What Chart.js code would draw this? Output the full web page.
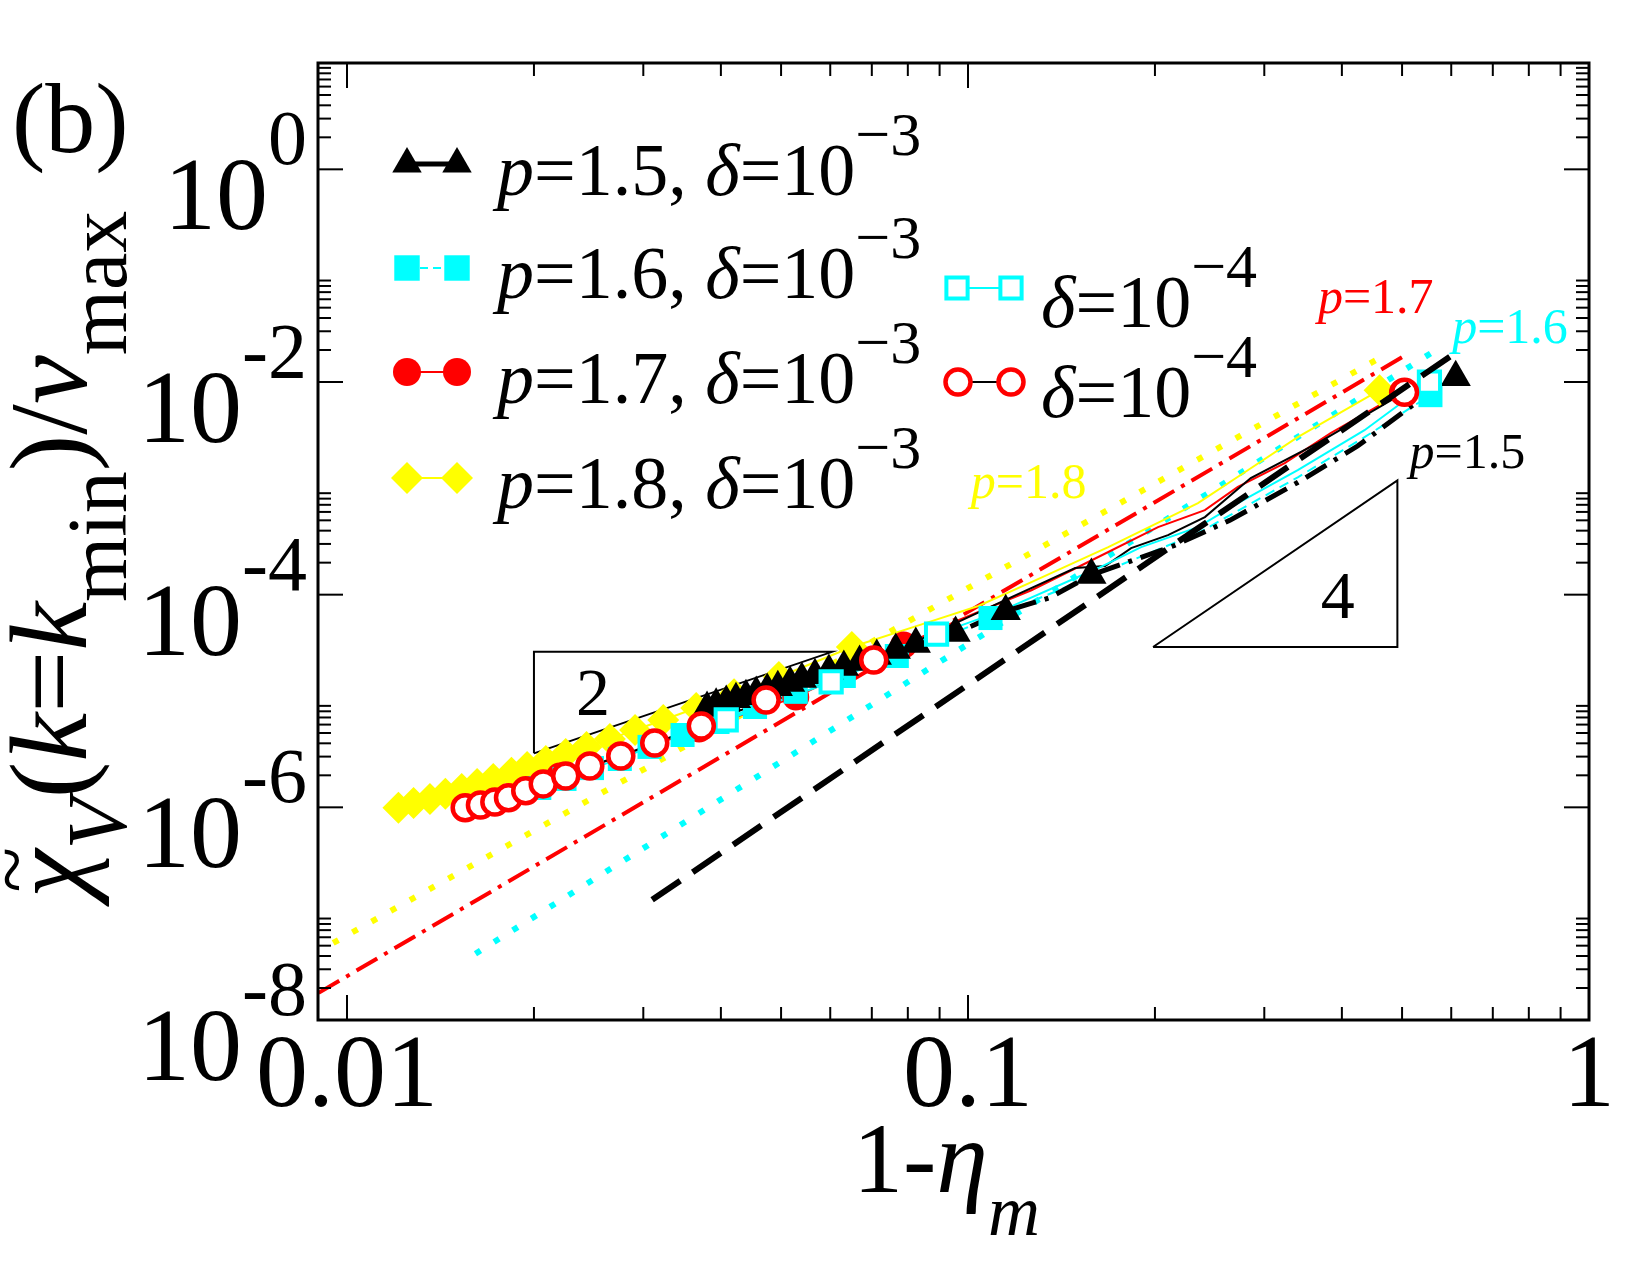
<!DOCTYPE html>
<html>
<head>
<meta charset="utf-8">
<script src="https://cdn.jsdelivr.net/npm/chart.js@4.4.1/dist/chart.umd.min.js"></script>
<style>
  html, body { margin: 0; padding: 0; background: #fff; }
  canvas { display: block; }
</style>
</head>
<body>
<canvas id="chart" width="1650" height="1275"></canvas>
<script>
// --- values (x = 1 - eta_m, y = chi_V / v_max) ---

// p=1.5, delta=1e-3 : filled black triangles (+ extra vertices of its line)
const p15X = [0.0380, 0.0393, 0.0408, 0.0423, 0.0439, 0.0456, 0.0475, 0.0494, 0.0517, 0.0540, 0.0567,
              0.0597, 0.0631, 0.0669, 0.0713, 0.0765, 0.0824, 0.0955, 0.115, 0.158, 0.61];
const p15Y = [8.6e-6, 9.2e-6, 9.8e-6, 1.04e-5, 1.11e-5, 1.19e-5, 1.27e-5, 1.35e-5, 1.48e-5, 1.61e-5, 1.75e-5,
              1.91e-5, 2.09e-5, 2.33e-5, 2.65e-5, 3.01e-5, 3.43e-5, 4.36e-5, 7.0e-5, 1.53e-4, 1.11e-2];
const p15TailX = [0.135, 0.215, 0.264, 0.340, 0.424, 0.520];
const p15TailY = [9.3e-5, 2.9e-4, 5.0e-4, 1.14e-3, 2.5e-3, 6.05e-3];

// p=1.6, delta=1e-3 : filled cyan squares
const p16X = [0.0204, 0.0224, 0.0248, 0.0275, 0.0307, 0.0347, 0.0395, 0.0454, 0.0528, 0.0631, 0.0768, 0.1087, 0.5555];
const p16Y = [1.52e-6, 1.85e-6, 2.34e-6, 2.85e-6, 3.70e-6, 4.79e-6, 6.35e-6, 8.79e-6, 1.22e-5, 1.72e-5, 2.65e-5, 6.03e-5, 7.52e-3];
const p16TailX = [0.1621, 0.2346, 0.3396, 0.4350];
const p16TailY = [1.56e-4, 3.79e-4, 1.27e-3, 3.03e-3];

// p=1.7, delta=1e-3 : filled red circles
const p17X = [0.0220, 0.0275, 0.0369, 0.0528, 0.0788, 0.5007];
const p17Y = [1.97e-6, 2.98e-6, 5.46e-6, 1.09e-5, 3.36e-5, 8.02e-3];
const p17TailX = [0.0965, 0.1265, 0.1621, 0.2023, 0.2407, 0.2720, 0.3236, 0.3837];
const p17TailY = [5.77e-5, 1.10e-4, 2.26e-4, 4.32e-4, 6.24e-4, 1.03e-3, 1.73e-3, 3.30e-3];

// p=1.8, delta=1e-3 : yellow diamonds
const p18X = [0.0121, 0.0128, 0.0136, 0.0144, 0.0153, 0.0162, 0.0172, 0.0184, 0.0195, 0.0209, 0.0225,
              0.0243, 0.0265, 0.0291, 0.0323, 0.0365, 0.0420, 0.0496, 0.0650, 0.46];
const p18Y = [9.9e-7, 1.10e-6, 1.20e-6, 1.34e-6, 1.49e-6, 1.66e-6, 1.85e-6, 2.11e-6, 2.40e-6, 2.73e-6, 3.18e-6,
              3.70e-6, 4.40e-6, 5.34e-6, 6.62e-6, 8.59e-6, 1.16e-5, 1.68e-5, 3.22e-5, 8.38e-3];
const p18TailX = [0.0864, 0.1039, 0.1265, 0.1682, 0.2346, 0.2822, 0.3396];
const p18TailY = [5.52e-5, 7.82e-5, 1.31e-4, 2.80e-4, 7.26e-4, 1.48e-3, 3.03e-3];

// p=1.6, delta=1e-4 : open cyan squares
const d4sqX = [0.0408, 0.0602, 0.0890, 0.5534];
const d4sqY = [6.63e-6, 1.51e-5, 4.26e-5, 9.95e-3];
const d4sqTailX = [0.1119, 0.1621, 0.1900, 0.2346, 0.2720, 0.3396, 0.4350];
const d4sqTailY = [6.86e-5, 1.78e-4, 2.80e-4, 4.32e-4, 7.26e-4, 1.48e-3, 3.52e-3];

// p=1.7, delta=1e-4 : open red circles (black line)
const d4ciX = [0.0155, 0.0164, 0.0173, 0.0182, 0.0194, 0.0207, 0.0225, 0.0246, 0.0276, 0.0313, 0.0372, 0.0473, 0.0705, 0.5046];
const d4ciY = [9.9e-7, 1.05e-6, 1.12e-6, 1.23e-6, 1.43e-6, 1.66e-6, 1.97e-6, 2.45e-6, 3.04e-6, 4.03e-6, 5.82e-6, 1.02e-5, 2.43e-5, 8.0e-3];
const d4ciTailX = [0.0833, 0.0955, 0.1175, 0.1488, 0.1663, 0.1831, 0.2099, 0.2407, 0.2853, 0.3657];
const d4ciTailY = [3.74e-5, 5.41e-5, 9.49e-5, 1.78e-4, 1.86e-4, 2.74e-4, 3.63e-4, 5.36e-4, 1.25e-3, 2.66e-3];

// fitted power laws
const fit18X = [0.0095, 0.453], fit18Y = [5.3e-8, 1.6e-2];
const fit17X = [0.0090, 0.500], fit17Y = [1.8e-8, 1.71e-2];
const fit16X = [0.0161, 0.560], fit16Y = [4.2e-8, 1.91e-2];
const fit15X = [0.0310, 0.603], fit15Y = [1.35e-7, 1.8e-2];

// slope triangles
const tri2X = [0.02, 0.02, 0.0604, 0.02], tri2Y = [3.22e-6, 2.9e-5, 2.9e-5, 3.22e-6];
const tri4X = [0.1986, 0.4914, 0.4914, 0.1986], tri4Y = [3.22e-5, 3.22e-5, 1.19e-3, 3.22e-5];

// axis ticks
const xMajor = [0.01, 0.1, 1];
const xTickLabels = ['0.01', '0.1', '1'];
const yMajor = [1, 1e-2, 1e-4, 1e-6, 1e-8];
const yTickExp = ['0', '-2', '-4', '-6', '-8'];

const SERIF = '"Liberation Serif", "Times New Roman", serif';
const CYAN = '#00ffff', RED = '#ff0000', YELLOW = '#ffff00', BLACK = '#000000';

function pts(xs, ys) { return xs.map((x, i) => ({ x: x, y: ys[i] })); }
function withTail(xs, ys, tx, ty) {
    return pts(xs.concat(tx), ys.concat(ty)).sort((a, b) => a.x - b.x);
}

function lineSet(data, color, width, dash, order) {
    return {
        data: data, showLine: true, borderColor: color, borderWidth: width,
        borderDash: dash, borderCapStyle: 'butt', pointRadius: 0, pointHoverRadius: 0,
        fill: false, order: order
    };
}

function markSet(data, style, r, fill, stroke, bw, order) {
    return {
        data: data, showLine: false, pointStyle: style, pointRadius: r, pointHoverRadius: r,
        pointBackgroundColor: fill, pointBorderColor: stroke, pointBorderWidth: bw,
        backgroundColor: fill, borderColor: stroke, order: order
    };
}

// higher order = painted earlier (underneath)
const datasets = [
    lineSet(pts(fit15X, fit15Y), BLACK, 6, [34, 15], 1),
    markSet(pts(d4ciX, d4ciY), 'circle', 12.5, '#ffffff', RED, 4.5, 2),
    markSet(pts(d4sqX, d4sqY), 'rect', 15, '#ffffff', CYAN, 4, 3),
    markSet(pts(p15X, p15Y), 'triangle', 17.5, BLACK, BLACK, 0, 4),
    markSet(pts(p16X, p16Y), 'rect', 17, CYAN, CYAN, 0, 5),
    markSet(pts(p17X, p17Y), 'circle', 13.5, RED, RED, 0, 6),
    markSet(pts(p18X, p18Y), 'rectRot', 16, YELLOW, YELLOW, 0, 7),
    lineSet(withTail(p15X, p15Y, p15TailX, p15TailY), BLACK, 5, [24, 9, 4, 9], 8),
    lineSet(withTail(d4sqX, d4sqY, d4sqTailX, d4sqTailY), CYAN, 2, [], 9),
    lineSet(withTail(p16X, p16Y, p16TailX, p16TailY), CYAN, 2, [10, 6], 10),
    lineSet(withTail(d4ciX, d4ciY, d4ciTailX, d4ciTailY), BLACK, 2, [], 11),
    lineSet(withTail(p17X, p17Y, p17TailX, p17TailY), RED, 2, [], 12),
    lineSet(withTail(p18X, p18Y, p18TailX, p18TailY), YELLOW, 2, [], 13),
    lineSet(pts(tri4X, tri4Y), BLACK, 2, [], 14),
    lineSet(pts(tri2X, tri2Y), BLACK, 2, [], 15),
    lineSet(pts(fit16X, fit16Y), CYAN, 6, [6, 16], 16),
    lineSet(pts(fit17X, fit17Y), RED, 4, [24, 8, 4, 8], 17),
    lineSet(pts(fit18X, fit18Y), YELLOW, 6, [6, 16], 18)
];

// draws a run of text pieces, returns end x
function drawRuns(ctx, x, y, parts, color) {
    parts.forEach(p => {
        ctx.font = (p.it ? 'italic ' : '') + p.size + 'px ' + SERIF;
        ctx.fillStyle = p.color || color;
        ctx.fillText(p.t, x, y + (p.dy || 0));
        x += ctx.measureText(p.t).width;
    });
    return x;
}
function runsWidth(ctx, parts) {
    let w = 0;
    parts.forEach(p => {
        ctx.font = (p.it ? 'italic ' : '') + p.size + 'px ' + SERIF;
        w += ctx.measureText(p.t).width;
    });
    return w;
}

function marker(ctx, style, x, y, r, fill, stroke, lw) {
    ctx.beginPath();
    if (style === 'circle') ctx.arc(x, y, r, 0, Math.PI * 2);
    else if (style === 'rect') { const s = r * Math.SQRT1_2; ctx.rect(x - s, y - s, 2 * s, 2 * s); }
    else if (style === 'rectRot') { ctx.moveTo(x - r, y); ctx.lineTo(x, y - r); ctx.lineTo(x + r, y); ctx.lineTo(x, y + r); ctx.closePath(); }
    else { ctx.moveTo(x, y - r); ctx.lineTo(x + 0.866 * r, y + r / 2); ctx.lineTo(x - 0.866 * r, y + r / 2); ctx.closePath(); }
    ctx.fillStyle = fill;
    ctx.fill();
    if (lw) { ctx.lineWidth = lw; ctx.strokeStyle = stroke; ctx.stroke(); }
}

// legend entries (layout only)
const legendItems = [
    { x1: 407, x2: 457, y: 164, tx: 497, ty: 195, style: 'triangle', r: 17, fill: BLACK, stroke: BLACK, lw: 0, lc: BLACK, lwid: 5, dash: [], p: '1.5', e: '3' },
    { x1: 407, x2: 457, y: 268, tx: 497, ty: 298, style: 'rect', r: 18, fill: CYAN, stroke: CYAN, lw: 0, lc: CYAN, lwid: 2, dash: [8, 5], p: '1.6', e: '3' },
    { x1: 407, x2: 457, y: 372, tx: 497, ty: 403, style: 'circle', r: 14, fill: RED, stroke: RED, lw: 0, lc: RED, lwid: 2, dash: [], p: '1.7', e: '3' },
    { x1: 407, x2: 457, y: 478, tx: 497, ty: 508, style: 'rectRot', r: 16, fill: YELLOW, stroke: YELLOW, lw: 0, lc: YELLOW, lwid: 2, dash: [], p: '1.8', e: '3' },
    { x1: 957, x2: 1011, y: 288, tx: 1041, ty: 327, style: 'rect', r: 15, fill: '#fff', stroke: CYAN, lw: 4, lc: CYAN, lwid: 2, dash: [], p: null, e: '4' },
    { x1: 958, x2: 1011, y: 382, tx: 1041, ty: 417, style: 'circle', r: 12.5, fill: '#fff', stroke: RED, lw: 4.5, lc: BLACK, lwid: 2, dash: [], p: null, e: '4' }
];

const notes = [
    { x: 0.366, y: 0.0443, color: RED, val: '1.7' },
    { x: 0.602, y: 0.0232, color: CYAN, val: '1.6' },
    { x: 0.514, y: 1.55e-3, color: BLACK, val: '1.5' },
    { x: 0.101, y: 8.1e-4, color: YELLOW, val: '1.8' }
];
const slopeNotes = [
    { x: 0.0249, y: 1.24e-5, t: '2' },
    { x: 0.394, y: 1.01e-4, t: '4' }
];

const overlay = {
    id: 'overlay',
    afterDraw(chart) {
        const ctx = chart.ctx, a = chart.chartArea;
        const xs = chart.scales.x, ys = chart.scales.y;
        ctx.save();

        // ticks on all four sides
        ctx.strokeStyle = BLACK;
        ctx.lineWidth = 2;
        const seg = (x1, y1, x2, y2) => { ctx.beginPath(); ctx.moveTo(x1, y1); ctx.lineTo(x2, y2); ctx.stroke(); };
        const xTicks = [];
        xMajor.forEach(v => xTicks.push({ v: v, major: true }));
        [0.01, 0.1].forEach(b => { for (let k = 2; k <= 9; k++) xTicks.push({ v: k * b, major: false }); });
        xTicks.forEach(t => {
            const px = xs.getPixelForValue(t.v);
            if (px < a.left + 1 || px > a.right - 1) return;
            const len = t.major ? 25 : 13;
            seg(px, a.bottom, px, a.bottom - len);
            seg(px, a.top, px, a.top + len);
        });
        const yTicks = [];
        yMajor.forEach(v => yTicks.push({ v: v, major: true }));
        yMajor.forEach(b => { for (let k = 2; k <= 9; k++) yTicks.push({ v: k * b, major: false }); });
        yTicks.forEach(t => {
            const py = ys.getPixelForValue(t.v);
            if (py < a.top + 1 || py > a.bottom - 1) return;
            const len = t.major ? 25 : 13;
            seg(a.left, py, a.left + len, py);
            seg(a.right, py, a.right - len, py);
        });

        // frame
        ctx.lineWidth = 3;
        ctx.strokeRect(a.left, a.top, a.right - a.left, a.bottom - a.top);

        // x tick labels
        ctx.fillStyle = BLACK;
        ctx.textAlign = 'center';
        ctx.textBaseline = 'alphabetic';
        ctx.font = '104px ' + SERIF;
        xMajor.forEach((v, i) => ctx.fillText(xTickLabels[i], xs.getPixelForValue(v), a.bottom + 86));

        // y tick labels 10^n
        ctx.textAlign = 'left';
        yMajor.forEach((v, i) => {
            const py = ys.getPixelForValue(v);
            const parts = [{ t: '10', size: 104 }, { t: yTickExp[i], size: 78, dy: -65 }];
            const w = runsWidth(ctx, parts);
            drawRuns(ctx, a.left - 11 - w, py + 60, parts, BLACK);
        });

        // axis titles
        drawRuns(ctx, 853, 1192, [
            { t: '1-', size: 100 }, { t: '\u03B7', size: 104, it: true }, { t: 'm', size: 72, it: true, dy: 43 }
        ], BLACK);

        ctx.save();
        ctx.translate(86, 898);
        ctx.rotate(-Math.PI / 2);
        ctx.font = 'italic 110px ' + SERIF;
        const chiW = ctx.measureText('\u03C7').width;
        drawRuns(ctx, 0, 0, [
            { t: '\u03C7', size: 110, it: true },
            { t: 'V', size: 84, it: true, dy: 40 },
            { t: '(', size: 110 }, { t: 'k', size: 110, it: true }, { t: '=', size: 110 },
            { t: 'k', size: 110, it: true }, { t: 'min', size: 84, dy: 40 },
            { t: ')/', size: 110 }, { t: 'v', size: 110, it: true }, { t: 'max', size: 84, dy: 40 }
        ], BLACK);
        // tilde over chi
        ctx.font = '84px ' + SERIF;
        ctx.textAlign = 'center';
        ctx.fillText('~', chiW / 2 + 4, -46);
        ctx.restore();

        // panel tag
        ctx.font = '100px ' + SERIF;
        ctx.fillStyle = BLACK;
        ctx.textAlign = 'left';
        ctx.fillText('(b)', 12, 152);

        // legend
        legendItems.forEach(it => {
            ctx.save();
            ctx.strokeStyle = it.lc;
            ctx.lineWidth = it.lwid;
            ctx.setLineDash(it.dash);
            seg(it.x1, it.y, it.x2, it.y);
            ctx.restore();
            marker(ctx, it.style, it.x1, it.y, it.r, it.fill, it.stroke, it.lw);
            marker(ctx, it.style, it.x2, it.y, it.r, it.fill, it.stroke, it.lw);
            const parts = [];
            if (it.p) {
                parts.push({ t: 'p', size: 74, it: true }, { t: '=' + it.p + ', ', size: 74 });
            }
            parts.push({ t: '\u03B4', size: 74, it: true }, { t: '=10', size: 74 },
                       { t: '\u2212' + it.e, size: 62, dy: -40 });
            drawRuns(ctx, it.tx, it.ty, parts, BLACK);
        });

        // curve labels
        notes.forEach(n => {
            drawRuns(ctx, xs.getPixelForValue(n.x), ys.getPixelForValue(n.y), [
                { t: 'p', size: 50, it: true }, { t: '=' + n.val, size: 50 }
            ], n.color);
        });
        ctx.font = '68px ' + SERIF;
        ctx.textAlign = 'center';
        ctx.fillStyle = BLACK;
        slopeNotes.forEach(n => ctx.fillText(n.t, xs.getPixelForValue(n.x), ys.getPixelForValue(n.y) + 24));

        ctx.restore();
    }
};

new Chart(document.getElementById('chart'), {
    type: 'scatter',
    data: { datasets: datasets },
    options: {
        animation: false,
        responsive: false,
        devicePixelRatio: 1,
        events: [],
        layout: { padding: { left: 318, top: 63, right: 61, bottom: 255 } },
        plugins: { legend: { display: false }, tooltip: { enabled: false } },
        scales: {
            x: { type: 'logarithmic', min: 0.00898, max: 1, display: false },
            y: { type: 'logarithmic', min: 1e-8, max: 10, display: false }
        }
    },
    plugins: [overlay]
});
</script>
</body>
</html>
